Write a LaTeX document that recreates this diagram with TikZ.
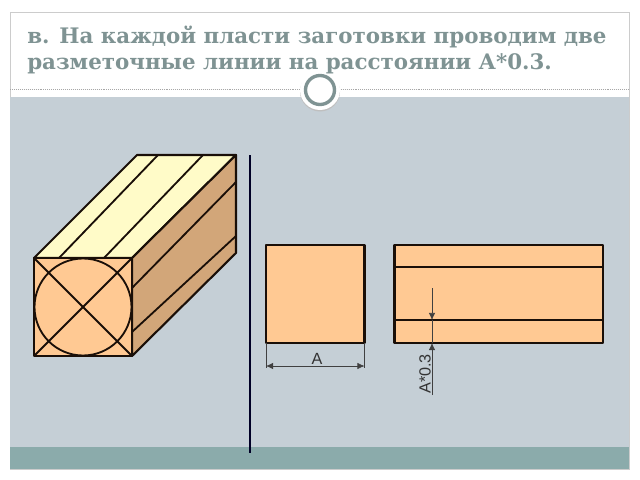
\documentclass[tikz,border=0pt]{standalone}
\usepackage{fontspec}
\setmainfont{DejaVu Serif}
\setsansfont{Liberation Sans}
\usepackage{tikz}
\usetikzlibrary{arrows.meta,calc,positioning}
\definecolor{panelgray}{HTML}{C5CFD6}
\definecolor{bandteal}{HTML}{8BABAB}
\definecolor{titlegray}{HTML}{7F9393}
\definecolor{woodfront}{HTML}{FFC993}
\definecolor{woodside}{HTML}{D2A679}
\definecolor{woodtop}{HTML}{FFFBC8}
\definecolor{inkline}{HTML}{1A0F08}

\begin{document}
\begin{tikzpicture}[
    x=0.025cm, y=-0.025cm,
    part/.style={draw=inkline, line width=1.5pt, line join=round},
    mark line/.style={draw=inkline, line width=1.3pt},
    dim/.style={draw=black!75, line width=0.4pt},
    dimarrow/.style={dim, -{Latex[length=5pt,width=4.5pt]}},
    dimboth/.style={dim, {Latex[length=5pt,width=4.5pt]}-{Latex[length=5pt,width=4.5pt]}},
    dimlabel/.style={font=\sffamily\fontsize{11.5}{13}\selectfont, text=black!80, inner sep=0pt}
]
    \useasboundingbox (0,0) rectangle (640,480);
    \fill[white] (0,0) rectangle (640,480);
    % Slide
    \draw[black!20, line width=0.6pt] (10,12) rectangle (629,469);
    \fill[panelgray] (10,97) rectangle (629,447);
    \fill[bandteal] (10,447) rectangle (629,469);
    \draw[black!35, line width=0.4pt, densely dotted] (10,89) -- (629,89);
    \fill[black!25] (320,91.5) circle (20);
    \fill[white] (320,90) circle (20);
    \draw[titlegray, line width=2.4pt] (320,90) circle (14.5);
    \node[anchor=north west, inner sep=0pt, align=left, text=titlegray,
        font=\bfseries\fontsize{15.2}{18.4}\selectfont] (title) at (27,26)
        {в. На каждой пласти заготовки проводим две\\разметочные линии на расстоянии А*0.3.};
    % Block
    \coordinate (fa) at (34,258);
    \coordinate (fb) at (132,258);
    \coordinate (fc) at (132,356);
    \coordinate (fd) at (34,356);
    \coordinate (ba) at (137,155);
    \coordinate (bb) at (236,155);
    \coordinate (bc) at (236,253);
    \draw[part, fill=woodtop] (fa) -- (ba) -- (bb) -- (fb) -- cycle;
    \draw[part, fill=woodside] (fb) -- (bb) -- (bc) -- (fc) -- cycle;
    \draw[part, fill=woodfront] (fa) rectangle (fc);
    \draw[mark line] (59,258) -- (158,155);
    \draw[mark line] (104,258) -- (203,155);
    \draw[mark line] (132,288) -- (236,182);
    \draw[mark line] (132,332) -- (236,236);
    \draw[mark line] (fa) -- (fc);
    \draw[mark line] (fb) -- (fd);
    \draw[mark line] (83,307) circle (48.5);
    % Divider
    \draw[black!85!blue, line width=2pt] (250,155) -- (250,453);
    % End view
    \draw[part, fill=woodfront] (266,245) rectangle (364.5,343);
    \coordinate (ea) at (266,343);
    \coordinate (eb) at (364.5,343);
    \coordinate (ec) at (266,368);
    \coordinate (ed) at (364.5,368);
    \coordinate (ee) at (266,366);
    \coordinate (ef) at (364.5,366);
    \draw[dim] (ea) -- (ec);
    \draw[dim] (eb) -- (ed);
    \draw[dimboth] (ee) -- (ef);
    \node[dimlabel] (sidea) at (317,359) {A};
    % Side view
    \draw[part, fill=woodfront] (394.5,245) rectangle (603,343);
    \draw[mark line] (394.5,267) -- (603,267);
    \draw[mark line] (394.5,320) -- (603,320);
    \coordinate (da) at (432,288);
    \coordinate (db) at (432,320);
    \coordinate (dc) at (432,343);
    \coordinate (dd) at (432,395);
    \draw[dimarrow] (da) -- (db);
    \draw[dim] (db) -- (dc);
    \draw[dimarrow] (dd) -- (dc);
    \node[dimlabel, rotate=90] (offset) at (425,374) {A*0.3};
\end{tikzpicture}
\end{document}
